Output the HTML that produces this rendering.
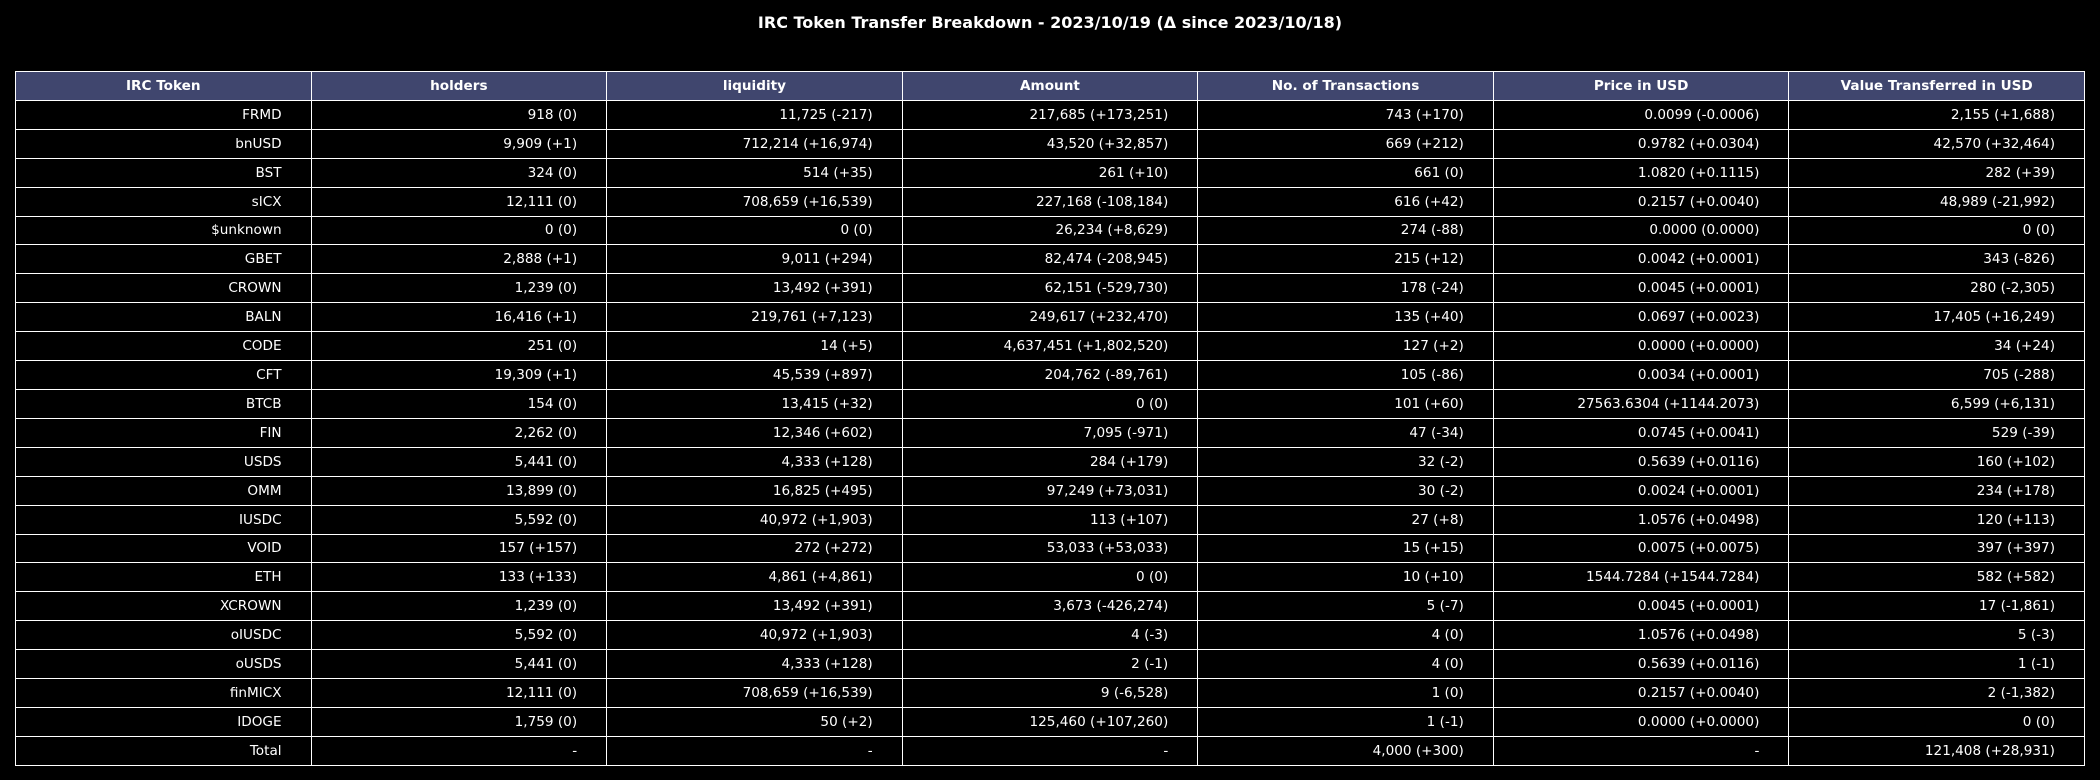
<!DOCTYPE html>
<html><head><meta charset="utf-8">
<style>
html,body{margin:0;padding:0;background:#000;}
body{width:2100px;height:780px;position:relative;overflow:hidden;font-family:"DejaVu Sans","Liberation Sans",sans-serif;color:#fff;}
#title{position:absolute;top:13px;left:0;width:2100px;text-align:center;font-weight:bold;font-size:16px;}
table{position:absolute;left:15px;top:71px;border-collapse:collapse;table-layout:fixed;width:2070px;}
td,th{border:1.5px solid #fff;height:27.4px;padding:0 29px 0 4px;font-size:13.6px;white-space:nowrap;overflow:hidden;box-sizing:border-box;}
tr{height:28.92px;}
td{height:28.92px;}
th{background:#40466e;font-weight:bold;text-align:center;padding:0;height:28.92px;}
td{text-align:right;}
</style></head><body>
<div id="title">IRC Token Transfer Breakdown - 2023/10/19 (Δ since 2023/10/18)</div>
<table id="tbl"><thead><tr id="hdr"></tr></thead><tbody id="body"></tbody></table>
<script>
const headers=["IRC Token","holders","liquidity","Amount","No. of Transactions","Price in USD","Value Transferred in USD"];
const tokens=["FRMD","bnUSD","BST","sICX","$unknown","GBET","CROWN","BALN","CODE","CFT","BTCB","FIN","USDS","OMM","IUSDC","VOID","ETH","XCROWN","oIUSDC","oUSDS","finMICX","IDOGE","Total"];
const holders=["918 (0)","9,909 (+1)","324 (0)","12,111 (0)","0 (0)","2,888 (+1)","1,239 (0)","16,416 (+1)","251 (0)","19,309 (+1)","154 (0)","2,262 (0)","5,441 (0)","13,899 (0)","5,592 (0)","157 (+157)","133 (+133)","1,239 (0)","5,592 (0)","5,441 (0)","12,111 (0)","1,759 (0)","-"];
const liquidity=["11,725 (-217)","712,214 (+16,974)","514 (+35)","708,659 (+16,539)","0 (0)","9,011 (+294)","13,492 (+391)","219,761 (+7,123)","14 (+5)","45,539 (+897)","13,415 (+32)","12,346 (+602)","4,333 (+128)","16,825 (+495)","40,972 (+1,903)","272 (+272)","4,861 (+4,861)","13,492 (+391)","40,972 (+1,903)","4,333 (+128)","708,659 (+16,539)","50 (+2)","-"];
const amount=["217,685 (+173,251)","43,520 (+32,857)","261 (+10)","227,168 (-108,184)","26,234 (+8,629)","82,474 (-208,945)","62,151 (-529,730)","249,617 (+232,470)","4,637,451 (+1,802,520)","204,762 (-89,761)","0 (0)","7,095 (-971)","284 (+179)","97,249 (+73,031)","113 (+107)","53,033 (+53,033)","0 (0)","3,673 (-426,274)","4 (-3)","2 (-1)","9 (-6,528)","125,460 (+107,260)","-"];
const txns=["743 (+170)","669 (+212)","661 (0)","616 (+42)","274 (-88)","215 (+12)","178 (-24)","135 (+40)","127 (+2)","105 (-86)","101 (+60)","47 (-34)","32 (-2)","30 (-2)","27 (+8)","15 (+15)","10 (+10)","5 (-7)","4 (0)","4 (0)","1 (0)","1 (-1)","4,000 (+300)"];
const price=["0.0099 (-0.0006)","0.9782 (+0.0304)","1.0820 (+0.1115)","0.2157 (+0.0040)","0.0000 (0.0000)","0.0042 (+0.0001)","0.0045 (+0.0001)","0.0697 (+0.0023)","0.0000 (+0.0000)","0.0034 (+0.0001)","27563.6304 (+1144.2073)","0.0745 (+0.0041)","0.5639 (+0.0116)","0.0024 (+0.0001)","1.0576 (+0.0498)","0.0075 (+0.0075)","1544.7284 (+1544.7284)","0.0045 (+0.0001)","1.0576 (+0.0498)","0.5639 (+0.0116)","0.2157 (+0.0040)","0.0000 (+0.0000)","-"];
const value=["2,155 (+1,688)","42,570 (+32,464)","282 (+39)","48,989 (-21,992)","0 (0)","343 (-826)","280 (-2,305)","17,405 (+16,249)","34 (+24)","705 (-288)","6,599 (+6,131)","529 (-39)","160 (+102)","234 (+178)","120 (+113)","397 (+397)","582 (+582)","17 (-1,861)","5 (-3)","1 (-1)","2 (-1,382)","0 (0)","121,408 (+28,931)"];
const cols=[tokens,holders,liquidity,amount,txns,price,value];
const hdr=document.getElementById('hdr');
headers.forEach(h=>{const th=document.createElement('th');th.textContent=h;


hdr.appendChild(th);});
const body=document.getElementById('body');
tokens.forEach((t,i)=>{const tr=document.createElement('tr');


cols.forEach(c=>{const td=document.createElement('td');td.textContent=c[i];


tr.appendChild(td);});
body.appendChild(tr);});
</script>
</body></html>
